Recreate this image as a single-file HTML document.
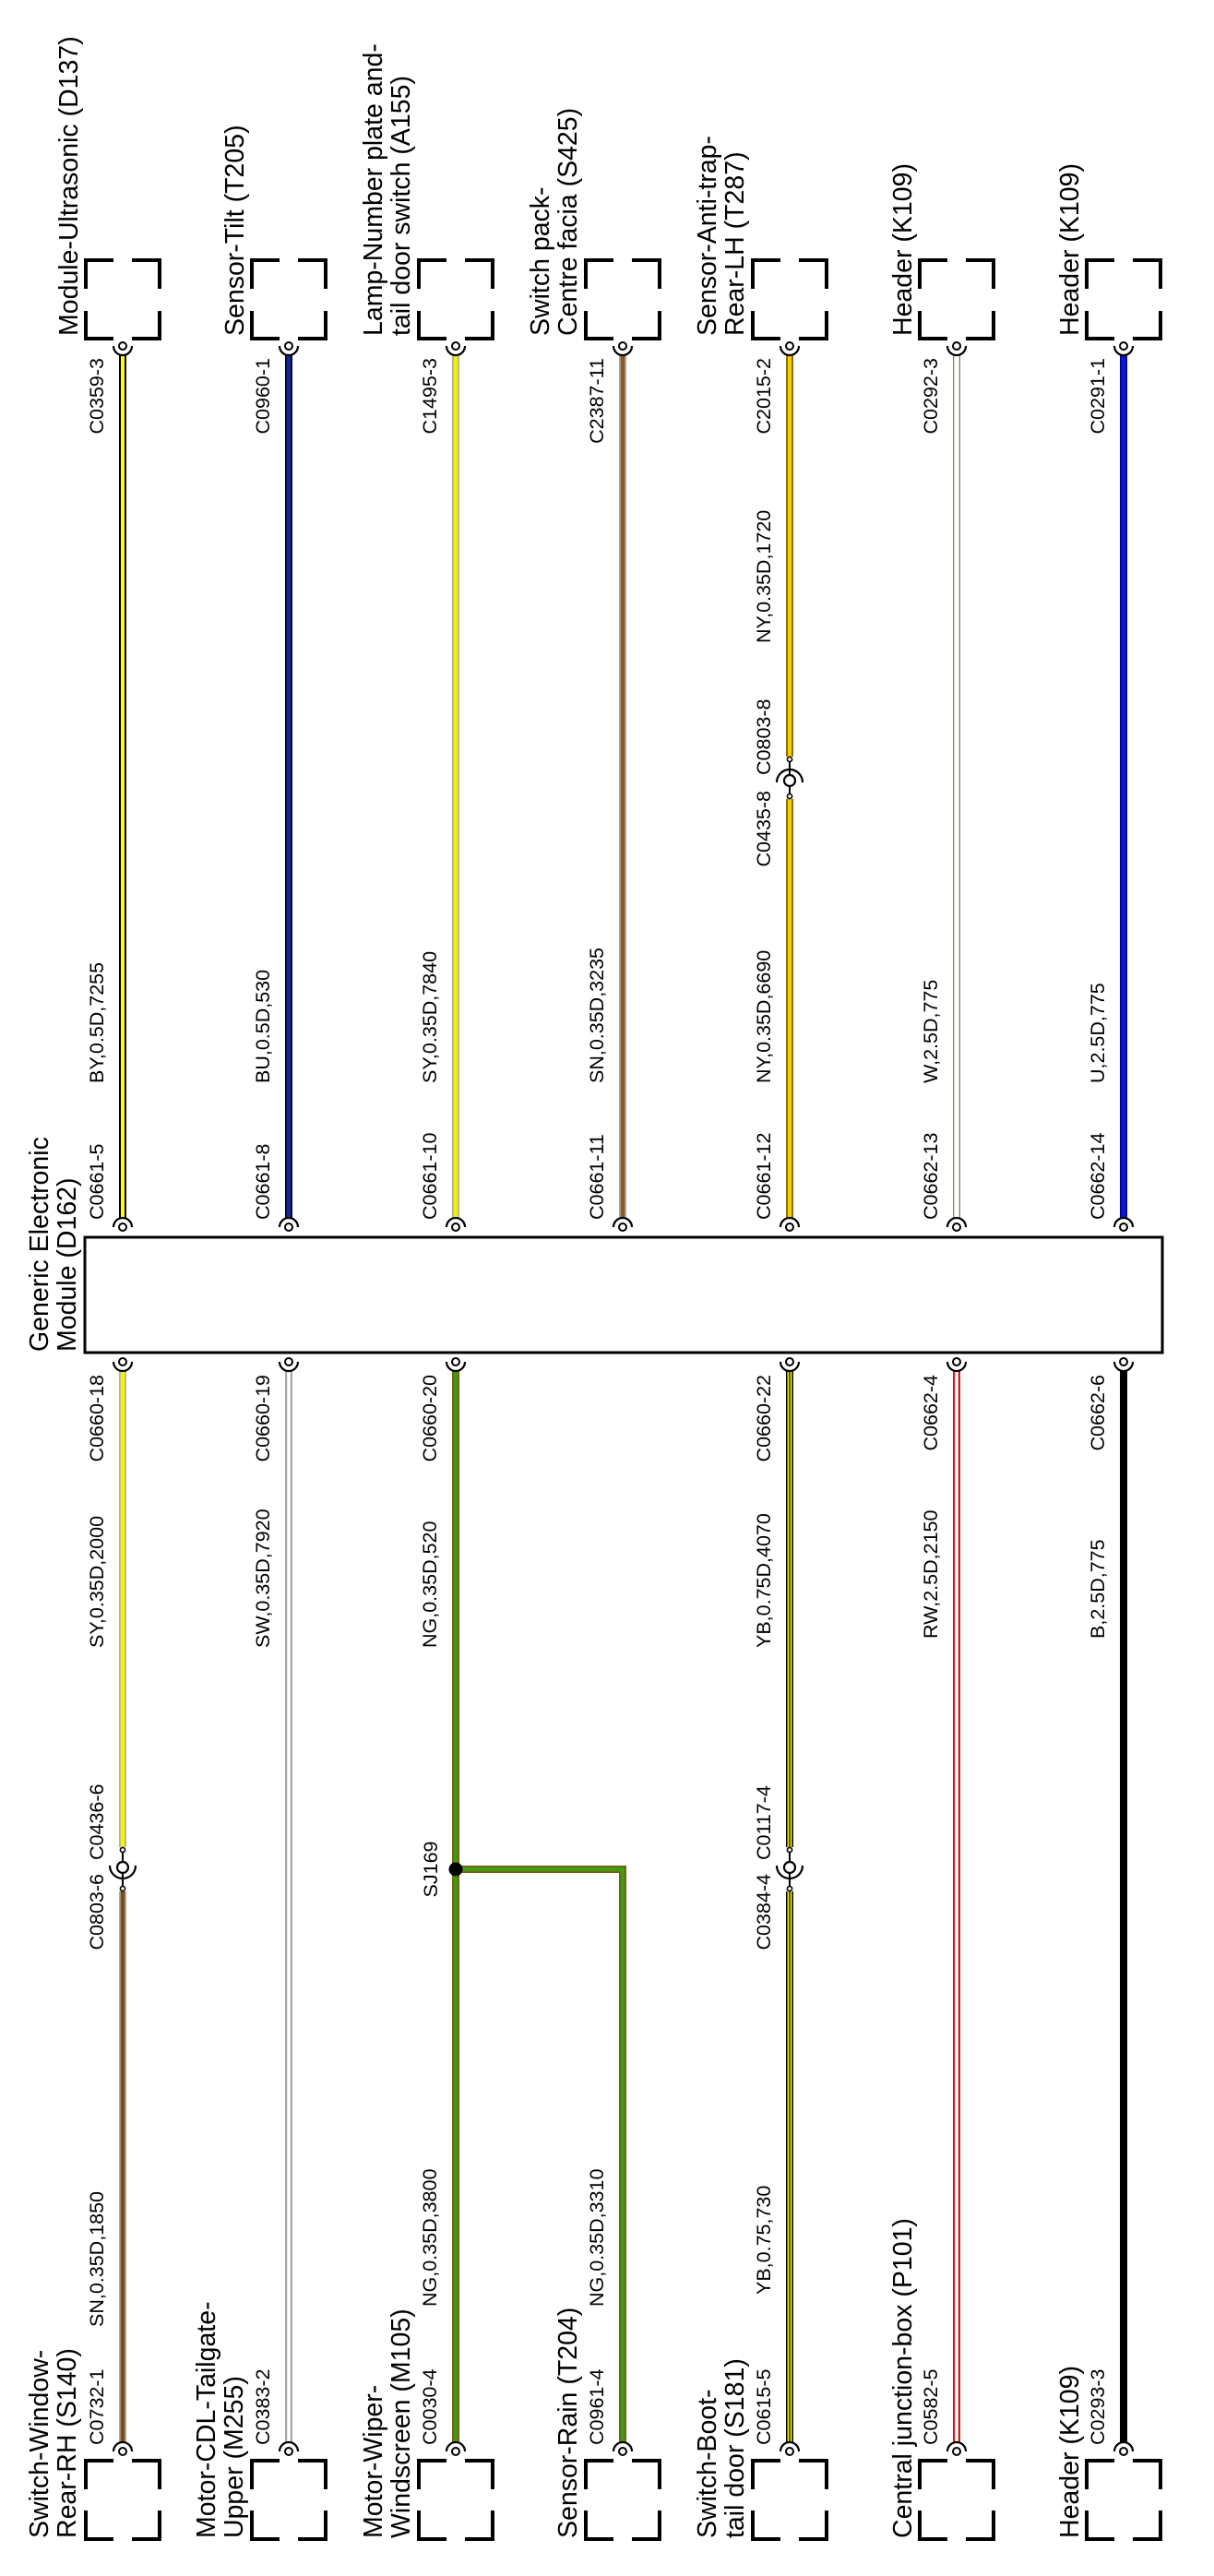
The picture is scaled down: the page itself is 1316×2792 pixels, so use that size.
<!DOCTYPE html>
<html>
<head>
<meta charset="utf-8">
<style>
html,body{margin:0;padding:0;background:#fff;}
svg{display:block;}
text{font-family:"Liberation Sans",Arial,sans-serif;fill:#000;}
.b{font-size:28.5px;}
.s{font-size:21.5px;}
.pin{fill:#fff;stroke:#000;stroke-width:2;}
.arc{fill:none;stroke:#000;stroke-width:2.2;}
.br{fill:none;stroke:#000;stroke-width:4;stroke-linecap:butt;stroke-linejoin:miter;}
</style>
</head>
<body>
<svg width="1316" height="2792" viewBox="0 0 1316 2792" xmlns="http://www.w3.org/2000/svg">
<rect x="0" y="0" width="1316" height="2792" fill="#fff"/>

<!-- ===== Connector boxes top ===== -->
<g class="br">
<path d="M93,313 V282 H123 M143,282 H173 V313 M93,337 V367 H123 M143,367 H173 V337"/>
<path d="M273,313 V282 H303 M323,282 H353 V313 M273,337 V367 H303 M323,367 H353 V337"/>
<path d="M454,313 V282 H484 M504,282 H534 V313 M454,337 V367 H484 M504,367 H534 V337"/>
<path d="M635,313 V282 H665 M685,282 H715 V313 M635,337 V367 H665 M685,367 H715 V337"/>
<path d="M816,313 V282 H846 M866,282 H896 V313 M816,337 V367 H846 M866,367 H896 V337"/>
<path d="M997,313 V282 H1027 M1047,282 H1077 V313 M997,337 V367 H1027 M1047,367 H1077 V337"/>
<path d="M1178,313 V282 H1208 M1228,282 H1258 V313 M1178,337 V367 H1208 M1228,367 H1258 V337"/>
</g>
<!-- ===== Connector boxes bottom ===== -->
<g class="br">
<path d="M93,2698 V2667 H123 M143,2667 H173 V2698 M93,2721 V2752 H123 M143,2752 H173 V2721"/>
<path d="M273,2698 V2667 H303 M323,2667 H353 V2698 M273,2721 V2752 H303 M323,2752 H353 V2721"/>
<path d="M454,2698 V2667 H484 M504,2667 H534 V2698 M454,2721 V2752 H484 M504,2752 H534 V2721"/>
<path d="M635,2698 V2667 H665 M685,2667 H715 V2698 M635,2721 V2752 H665 M685,2752 H715 V2721"/>
<path d="M816,2698 V2667 H846 M866,2667 H896 V2698 M816,2721 V2752 H846 M866,2752 H896 V2721"/>
<path d="M997,2698 V2667 H1027 M1047,2667 H1077 V2698 M997,2721 V2752 H1027 M1047,2752 H1077 V2721"/>
<path d="M1178,2698 V2667 H1208 M1228,2667 H1258 V2698 M1178,2721 V2752 H1208 M1228,2752 H1258 V2721"/>
</g>

<!-- ===== Module box ===== -->
<rect x="92" y="1341" width="1168" height="125" fill="#fff" stroke="#000" stroke-width="3"/>

<!-- ===== Wires top section ===== -->
<!-- col1 BY -->
<line x1="133" y1="385" x2="133" y2="1320" stroke="#000" stroke-width="8"/>
<line x1="133" y1="385" x2="133" y2="1320" stroke="#ffff00" stroke-width="4"/>
<!-- col2 BU -->
<line x1="313" y1="385" x2="313" y2="1320" stroke="#000048" stroke-width="8"/>
<line x1="313" y1="385" x2="313" y2="1320" stroke="#17288f" stroke-width="4.5"/>
<!-- col3 SY -->
<line x1="494" y1="385" x2="494" y2="1320" stroke="#b0b0a4" stroke-width="8"/>
<line x1="494" y1="385" x2="494" y2="1320" stroke="#f2f200" stroke-width="4.5"/>
<!-- col4 SN -->
<line x1="675" y1="385" x2="675" y2="1320" stroke="#b0a898" stroke-width="8"/>
<line x1="675" y1="385" x2="675" y2="1320" stroke="#8a5a2c" stroke-width="4.5"/>
<!-- col5 NY -->
<line x1="856" y1="385" x2="856" y2="820" stroke="#8a6a12" stroke-width="8"/>
<line x1="856" y1="385" x2="856" y2="820" stroke="#f5d000" stroke-width="4"/>
<line x1="856" y1="866" x2="856" y2="1320" stroke="#8a6a12" stroke-width="8"/>
<line x1="856" y1="866" x2="856" y2="1320" stroke="#f5d000" stroke-width="4"/>
<!-- col6 W -->
<line x1="1037" y1="385" x2="1037" y2="1320" stroke="#7a7a7a" stroke-width="8"/>
<line x1="1037" y1="385" x2="1037" y2="1320" stroke="#fffff4" stroke-width="5.5"/>
<!-- col7 U -->
<line x1="1218" y1="385" x2="1218" y2="1320" stroke="#000088" stroke-width="8"/>
<line x1="1218" y1="385" x2="1218" y2="1320" stroke="#0c1ad4" stroke-width="5"/>

<!-- ===== Wires bottom section ===== -->
<!-- col1 SY upper, SN lower -->
<line x1="133" y1="1486" x2="133" y2="2002" stroke="#b0b0a4" stroke-width="8"/>
<line x1="133" y1="1486" x2="133" y2="2002" stroke="#f5f500" stroke-width="4.5"/>
<line x1="133" y1="2050" x2="133" y2="2647" stroke="#b0a898" stroke-width="8"/>
<line x1="133" y1="2050" x2="133" y2="2647" stroke="#7e4c1c" stroke-width="4.5"/>
<!-- col2 SW -->
<line x1="313" y1="1486" x2="313" y2="2647" stroke="#a8a8a0" stroke-width="8"/>
<line x1="313" y1="1486" x2="313" y2="2647" stroke="#ffffff" stroke-width="3.5"/>
<!-- col3 NG + branch to col4 -->
<line x1="494" y1="1486" x2="494" y2="2647" stroke="#7a5c12" stroke-width="8"/>
<path d="M494,2026 H675 V2647" fill="none" stroke="#7a5c12" stroke-width="8" stroke-linejoin="miter"/>
<line x1="494" y1="1486" x2="494" y2="2647" stroke="#3f9c0e" stroke-width="4.5"/>
<path d="M494,2026 H675 V2647" fill="none" stroke="#3f9c0e" stroke-width="4.5" stroke-linejoin="miter"/>
<!-- col5 YB -->
<line x1="856" y1="1486" x2="856" y2="2002" stroke="#000" stroke-width="8"/>
<line x1="856" y1="1486" x2="856" y2="2002" stroke="#f0f000" stroke-width="5"/>
<line x1="856" y1="1486" x2="856" y2="2002" stroke="#000" stroke-width="1.3"/>
<line x1="856" y1="2050" x2="856" y2="2647" stroke="#000" stroke-width="8"/>
<line x1="856" y1="2050" x2="856" y2="2647" stroke="#f0f000" stroke-width="5"/>
<line x1="856" y1="2050" x2="856" y2="2647" stroke="#000" stroke-width="1.3"/>
<!-- col6 RW -->
<line x1="1037" y1="1486" x2="1037" y2="2647" stroke="#d41616" stroke-width="8"/>
<line x1="1037" y1="1486" x2="1037" y2="2647" stroke="#ffffff" stroke-width="3.5"/>
<!-- col7 B -->
<line x1="1218" y1="1486" x2="1218" y2="2647" stroke="#000" stroke-width="8"/>

<!-- ===== Pins: top connectors (arc below) ===== -->
<g>
<path class="arc" d="M123,375 A10,10 0 0 0 143,375"/><circle class="pin" cx="133" cy="375" r="4"/>
<path class="arc" d="M303,375 A10,10 0 0 0 323,375"/><circle class="pin" cx="313" cy="375" r="4"/>
<path class="arc" d="M484,375 A10,10 0 0 0 504,375"/><circle class="pin" cx="494" cy="375" r="4"/>
<path class="arc" d="M665,375 A10,10 0 0 0 685,375"/><circle class="pin" cx="675" cy="375" r="4"/>
<path class="arc" d="M846,375 A10,10 0 0 0 866,375"/><circle class="pin" cx="856" cy="375" r="4"/>
<path class="arc" d="M1027,375 A10,10 0 0 0 1047,375"/><circle class="pin" cx="1037" cy="375" r="4"/>
<path class="arc" d="M1208,375 A10,10 0 0 0 1228,375"/><circle class="pin" cx="1218" cy="375" r="4"/>
</g>
<!-- Module top pins (arc above) -->
<g>
<path class="arc" d="M123,1330 A10,10 0 0 1 143,1330"/><circle class="pin" cx="133" cy="1330" r="4"/>
<path class="arc" d="M303,1330 A10,10 0 0 1 323,1330"/><circle class="pin" cx="313" cy="1330" r="4"/>
<path class="arc" d="M484,1330 A10,10 0 0 1 504,1330"/><circle class="pin" cx="494" cy="1330" r="4"/>
<path class="arc" d="M665,1330 A10,10 0 0 1 685,1330"/><circle class="pin" cx="675" cy="1330" r="4"/>
<path class="arc" d="M846,1330 A10,10 0 0 1 866,1330"/><circle class="pin" cx="856" cy="1330" r="4"/>
<path class="arc" d="M1027,1330 A10,10 0 0 1 1047,1330"/><circle class="pin" cx="1037" cy="1330" r="4"/>
<path class="arc" d="M1208,1330 A10,10 0 0 1 1228,1330"/><circle class="pin" cx="1218" cy="1330" r="4"/>
</g>
<!-- Module bottom pins (arc below) -->
<g>
<path class="arc" d="M123,1476 A10,10 0 0 0 143,1476"/><circle class="pin" cx="133" cy="1476" r="4"/>
<path class="arc" d="M303,1476 A10,10 0 0 0 323,1476"/><circle class="pin" cx="313" cy="1476" r="4"/>
<path class="arc" d="M484,1476 A10,10 0 0 0 504,1476"/><circle class="pin" cx="494" cy="1476" r="4"/>
<path class="arc" d="M846,1476 A10,10 0 0 0 866,1476"/><circle class="pin" cx="856" cy="1476" r="4"/>
<path class="arc" d="M1027,1476 A10,10 0 0 0 1047,1476"/><circle class="pin" cx="1037" cy="1476" r="4"/>
<path class="arc" d="M1208,1476 A10,10 0 0 0 1228,1476"/><circle class="pin" cx="1218" cy="1476" r="4"/>
</g>
<!-- Bottom connector pins (arc above) -->
<g>
<path class="arc" d="M123,2657 A10,10 0 0 1 143,2657"/><circle class="pin" cx="133" cy="2657" r="4"/>
<path class="arc" d="M303,2657 A10,10 0 0 1 323,2657"/><circle class="pin" cx="313" cy="2657" r="4"/>
<path class="arc" d="M484,2657 A10,10 0 0 1 504,2657"/><circle class="pin" cx="494" cy="2657" r="4"/>
<path class="arc" d="M665,2657 A10,10 0 0 1 685,2657"/><circle class="pin" cx="675" cy="2657" r="4"/>
<path class="arc" d="M846,2657 A10,10 0 0 1 866,2657"/><circle class="pin" cx="856" cy="2657" r="4"/>
<path class="arc" d="M1027,2657 A10,10 0 0 1 1047,2657"/><circle class="pin" cx="1037" cy="2657" r="4"/>
<path class="arc" d="M1208,2657 A10,10 0 0 1 1228,2657"/><circle class="pin" cx="1218" cy="2657" r="4"/>
</g>

<!-- ===== Inline splices ===== -->
<!-- col5 top at 846, arc above -->
<g>
<line x1="856" y1="825" x2="856" y2="840" stroke="#000" stroke-width="2"/>
<line x1="856" y1="852" x2="856" y2="861" stroke="#000" stroke-width="2"/>
<circle cx="856" cy="823" r="2.6" fill="#fff" stroke="#000" stroke-width="1.6"/>
<circle cx="856" cy="863" r="2.6" fill="#fff" stroke="#000" stroke-width="1.6"/>
<circle cx="856" cy="846" r="6" fill="#fff" stroke="#000" stroke-width="2.2"/>
<path class="arc" d="M842,848 A14,14 0 0 1 870,848"/>
</g>
<!-- col1 bottom at 2024, arc below -->
<g>
<line x1="133" y1="2007" x2="133" y2="2018" stroke="#000" stroke-width="2"/>
<line x1="133" y1="2030" x2="133" y2="2045" stroke="#000" stroke-width="2"/>
<circle cx="133" cy="2005" r="2.6" fill="#fff" stroke="#000" stroke-width="1.6"/>
<circle cx="133" cy="2047" r="2.6" fill="#fff" stroke="#000" stroke-width="1.6"/>
<circle cx="133" cy="2024" r="6" fill="#fff" stroke="#000" stroke-width="2.2"/>
<path class="arc" d="M119,2022 A14,14 0 0 0 147,2022"/>
</g>
<!-- col5 bottom at 2024, arc below -->
<g>
<line x1="856" y1="2007" x2="856" y2="2018" stroke="#000" stroke-width="2"/>
<line x1="856" y1="2030" x2="856" y2="2045" stroke="#000" stroke-width="2"/>
<circle cx="856" cy="2005" r="2.6" fill="#fff" stroke="#000" stroke-width="1.6"/>
<circle cx="856" cy="2047" r="2.6" fill="#fff" stroke="#000" stroke-width="1.6"/>
<circle cx="856" cy="2024" r="6" fill="#fff" stroke="#000" stroke-width="2.2"/>
<path class="arc" d="M842,2022 A14,14 0 0 0 870,2022"/>
</g>
<!-- SJ169 splice dot -->
<circle cx="494" cy="2026" r="7.5" fill="#000"/>

<!-- ===== Big labels: top ===== -->
<g class="b">
<text transform="translate(84,364) rotate(-90)">Module-Ultrasonic (D137)</text>
<text transform="translate(264,364) rotate(-90)">Sensor-Tilt (T205)</text>
<text transform="translate(414,364) rotate(-90)">Lamp-Number plate and-</text>
<text transform="translate(444,364) rotate(-90)">tail door switch (A155)</text>
<text transform="translate(595,364) rotate(-90)">Switch pack-</text>
<text transform="translate(625,364) rotate(-90)">Centre facia (S425)</text>
<text transform="translate(776,364) rotate(-90)">Sensor-Anti-trap-</text>
<text transform="translate(806,364) rotate(-90)">Rear-LH (T287)</text>
<text transform="translate(988,364) rotate(-90)">Header (K109)</text>
<text transform="translate(1169,364) rotate(-90)">Header (K109)</text>
</g>
<!-- Module label -->
<g class="b">
<text transform="translate(52,1465) rotate(-90)">Generic Electronic</text>
<text transform="translate(82,1465) rotate(-90)">Module (D162)</text>
</g>
<!-- ===== Big labels: bottom ===== -->
<g class="b">
<text transform="translate(52,2751) rotate(-90)">Switch-Window-</text>
<text transform="translate(82,2751) rotate(-90)">Rear-RH (S140)</text>
<text transform="translate(233,2751) rotate(-90)">Motor-CDL-Tailgate-</text>
<text transform="translate(263,2751) rotate(-90)">Upper (M255)</text>
<text transform="translate(414,2751) rotate(-90)">Motor-Wiper-</text>
<text transform="translate(444,2751) rotate(-90)">Windscreen (M105)</text>
<text transform="translate(625,2751) rotate(-90)">Sensor-Rain (T204)</text>
<text transform="translate(776,2751) rotate(-90)">Switch-Boot-</text>
<text transform="translate(806,2751) rotate(-90)">tail door (S181)</text>
<text transform="translate(988,2751) rotate(-90)">Central junction-box (P101)</text>
<text transform="translate(1169,2751) rotate(-90)">Header (K109)</text>
</g>

<!-- ===== Small labels: top section ===== -->
<g class="s">
<text transform="translate(112,388) rotate(-90)" text-anchor="end">C0359-3</text>
<text transform="translate(292,388) rotate(-90)" text-anchor="end">C0960-1</text>
<text transform="translate(473,388) rotate(-90)" text-anchor="end">C1495-3</text>
<text transform="translate(654,388) rotate(-90)" text-anchor="end">C2387-11</text>
<text transform="translate(835,388) rotate(-90)" text-anchor="end">C2015-2</text>
<text transform="translate(1016,388) rotate(-90)" text-anchor="end">C0292-3</text>
<text transform="translate(1197,388) rotate(-90)" text-anchor="end">C0291-1</text>

<text transform="translate(835,697) rotate(-90)">NY,0.35D,1720</text>
<text transform="translate(835,840) rotate(-90)">C0803-8</text>
<text transform="translate(835,857) rotate(-90)" text-anchor="end">C0435-8</text>

<text transform="translate(112,1174) rotate(-90)">BY,0.5D,7255</text>
<text transform="translate(292,1174) rotate(-90)">BU,0.5D,530</text>
<text transform="translate(473,1174) rotate(-90)">SY,0.35D,7840</text>
<text transform="translate(654,1174) rotate(-90)">SN,0.35D,3235</text>
<text transform="translate(835,1174) rotate(-90)">NY,0.35D,6690</text>
<text transform="translate(1016,1174) rotate(-90)">W,2.5D,775</text>
<text transform="translate(1197,1174) rotate(-90)">U,2.5D,775</text>

<text transform="translate(112,1322) rotate(-90)">C0661-5</text>
<text transform="translate(292,1322) rotate(-90)">C0661-8</text>
<text transform="translate(473,1322) rotate(-90)">C0661-10</text>
<text transform="translate(654,1322) rotate(-90)">C0661-11</text>
<text transform="translate(835,1322) rotate(-90)">C0661-12</text>
<text transform="translate(1016,1322) rotate(-90)">C0662-13</text>
<text transform="translate(1197,1322) rotate(-90)">C0662-14</text>
</g>

<!-- ===== Small labels: bottom section ===== -->
<g class="s">
<text transform="translate(112,1490) rotate(-90)" text-anchor="end">C0660-18</text>
<text transform="translate(292,1490) rotate(-90)" text-anchor="end">C0660-19</text>
<text transform="translate(473,1490) rotate(-90)" text-anchor="end">C0660-20</text>
<text transform="translate(835,1490) rotate(-90)" text-anchor="end">C0660-22</text>
<text transform="translate(1016,1490) rotate(-90)" text-anchor="end">C0662-4</text>
<text transform="translate(1197,1490) rotate(-90)" text-anchor="end">C0662-6</text>

<text transform="translate(112,1786) rotate(-90)">SY,0.35D,2000</text>
<text transform="translate(292,1786) rotate(-90)">SW,0.35D,7920</text>
<text transform="translate(473,1786) rotate(-90)">NG,0.35D,520</text>
<text transform="translate(835,1786) rotate(-90)">YB,0.75D,4070</text>
<text transform="translate(1016,1776) rotate(-90)">RW,2.5D,2150</text>
<text transform="translate(1197,1776) rotate(-90)">B,2.5D,775</text>

<text transform="translate(112,2016) rotate(-90)">C0436-6</text>
<text transform="translate(112,2031) rotate(-90)" text-anchor="end">C0803-6</text>
<text transform="translate(835,2016) rotate(-90)">C0117-4</text>
<text transform="translate(835,2031) rotate(-90)" text-anchor="end">C0384-4</text>
<text transform="translate(474,2026) rotate(-90)" text-anchor="middle">SJ169</text>

<text transform="translate(112,2522) rotate(-90)">SN,0.35D,1850</text>
<text transform="translate(473,2500) rotate(-90)">NG,0.35D,3800</text>
<text transform="translate(654,2500) rotate(-90)">NG,0.35D,3310</text>
<text transform="translate(835,2487) rotate(-90)">YB,0.75,730</text>

<text transform="translate(112,2650) rotate(-90)">C0732-1</text>
<text transform="translate(292,2650) rotate(-90)">C0383-2</text>
<text transform="translate(473,2650) rotate(-90)">C0030-4</text>
<text transform="translate(654,2650) rotate(-90)">C0961-4</text>
<text transform="translate(835,2650) rotate(-90)">C0615-5</text>
<text transform="translate(1016,2650) rotate(-90)">C0582-5</text>
<text transform="translate(1197,2650) rotate(-90)">C0293-3</text>
</g>
</svg>
</body>
</html>
